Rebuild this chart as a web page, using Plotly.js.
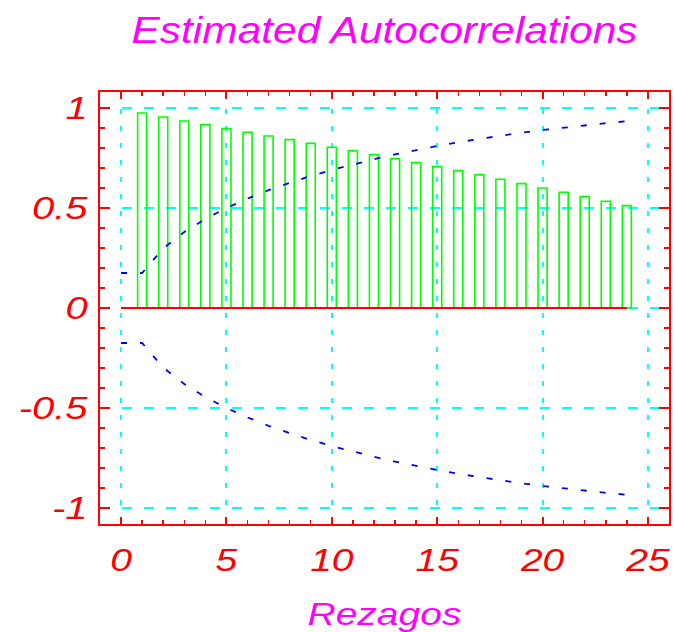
<!DOCTYPE html>
<html>
<head>
<meta charset="utf-8">
<script src="https://cdn.plot.ly/plotly-3.0.1.min.js"></script>
<style>
  html, body { margin: 0; padding: 0; background: #ffffff; }
  #chart { width: 675px; height: 632px; }
</style>
</head>
<body>
<div id="chart"></div>
<script>
// ---- data ----
var lags = [1, 2, 3, 4, 5, 6, 7, 8, 9, 10, 11, 12, 13, 14, 15, 16, 17, 18, 19, 20, 21, 22, 23, 24];
var acf = [0.975, 0.955, 0.935, 0.917, 0.897, 0.879, 0.860, 0.842, 0.823, 0.804, 0.786, 0.767,
           0.747, 0.727, 0.707, 0.687, 0.666, 0.644, 0.622, 0.600, 0.579, 0.557, 0.534, 0.512];

var bandLags = [0, 1, 2, 3, 4, 5, 6, 7, 8, 9, 10, 11, 12, 13, 14, 15, 16, 17, 18, 19, 20, 21, 22, 23, 24];
var upperBand = [0.175, 0.175, 0.298, 0.380, 0.445, 0.500, 0.547, 0.589, 0.626, 0.660, 0.690, 0.718, 0.744,
                 0.768, 0.790, 0.810, 0.829, 0.846, 0.862, 0.877, 0.890, 0.902, 0.914, 0.924, 0.934];
var lowerBand = [-0.175, -0.175, -0.298, -0.380, -0.445, -0.500, -0.547, -0.589, -0.626, -0.660, -0.690, -0.718, -0.744,
                 -0.768, -0.790, -0.810, -0.829, -0.846, -0.862, -0.877, -0.890, -0.902, -0.914, -0.924, -0.934];

var zeroX = [0, 24];
var zeroY = [0, 0];

var xTickVals = [0, 5, 10, 15, 20, 25];
var xTickText = ['0', '5', '10', '15', '20', '25'];
var yTickVals = [-1, -0.5, 0, 0.5, 1];
var yTickText = ['-1', '-0.5', '0', '0.5', '1'];

var titleText = 'Estimated Autocorrelations';
var xTitleText = 'Rezagos';

// ---- chart ----
var FONT = 'Liberation Sans, Arial, Helvetica, sans-serif';
var RED = '#ff0000';
var MAGENTA = '#ff00ff';
var CYAN = '#00ffff';

var traces = [
  {
    type: 'bar',
    x: lags,
    y: acf,
    width: 0.43,
    marker: { color: 'rgba(0,0,0,0)', line: { color: '#00ff00', width: 1.6 } },
    hoverinfo: 'x+y'
  },
  {
    type: 'scatter', mode: 'lines',
    x: zeroX, y: zeroY,
    line: { color: RED, width: 2 },
    hoverinfo: 'skip'
  },
  {
    type: 'scatter', mode: 'lines',
    x: bandLags, y: upperBand,
    line: { color: '#0000ff', width: 1.8, dash: '6px,13px' }
  },
  {
    type: 'scatter', mode: 'lines',
    x: bandLags, y: lowerBand,
    line: { color: '#0000ff', width: 1.8, dash: '6px,13px' }
  }
];

var axisCommon = {
  showline: true, linecolor: RED, linewidth: 2, mirror: 'ticks',
  ticks: 'inside', tickcolor: RED, tickwidth: 2,
  showgrid: true, gridcolor: CYAN, gridwidth: 2,
  zeroline: false
};

var layout = {
  width: 675, height: 632,
  margin: { l: 100, r: 6, t: 92, b: 108 },
  paper_bgcolor: '#ffffff', plot_bgcolor: '#ffffff',
  showlegend: false,
  bargap: 0,
  title: {
    text: titleText,
    font: { family: FONT, size: 36, color: MAGENTA, style: 'italic' },
    x: 0.5, xref: 'paper', xanchor: 'center',
    y: 1 - 30 / 632, yref: 'container', yanchor: 'middle'
  },
  xaxis: Object.assign({}, axisCommon, {
    range: [-1, 26],
    tickmode: 'array', tickvals: xTickVals, ticktext: xTickText,
    ticklen: 7,
    griddash: '5px,12px',
    ticklabelstandoff: 7,
    tickfont: { family: FONT, size: 32, color: RED, style: 'italic' },
    minor: { tickmode: 'linear', tick0: 0, dtick: 1, ticks: 'inside', ticklen: 4, tickcolor: RED, tickwidth: 1.5, showgrid: false },
    title: {
      text: xTitleText,
      font: { family: FONT, size: 32, color: MAGENTA, style: 'italic' },
      standoff: 28
    }
  }),
  yaxis: Object.assign({}, axisCommon, {
    range: [-1.08, 1.08],
    tickmode: 'array', tickvals: yTickVals, ticktext: yTickText,
    ticklen: 10,
    griddash: '10px,12px',
    ticklabelstandoff: 4,
    tickfont: { family: FONT, size: 32, color: RED, style: 'italic' },
    minor: { tickmode: 'linear', tick0: 0, dtick: 0.1, ticks: 'inside', ticklen: 5, tickcolor: RED, tickwidth: 1.5, showgrid: false }
  })
};

function stretch(selector, factor) {
  document.querySelectorAll(selector).forEach(function (t) {
    var L = t.getComputedTextLength();
    if (L > 0) {
      t.setAttribute('textLength', (L * factor).toFixed(1));
      t.setAttribute('lengthAdjust', 'spacingAndGlyphs');
    }
  });
}

Plotly.newPlot('chart', traces, layout, { displayModeBar: false, staticPlot: true }).then(function () {
  stretch('.gtitle', 1.18);
  stretch('.g-xtitle text', 1.22);
  stretch('.xtick text', 1.22);
  stretch('.ytick text', 1.25);
});
</script>
</body>
</html>
